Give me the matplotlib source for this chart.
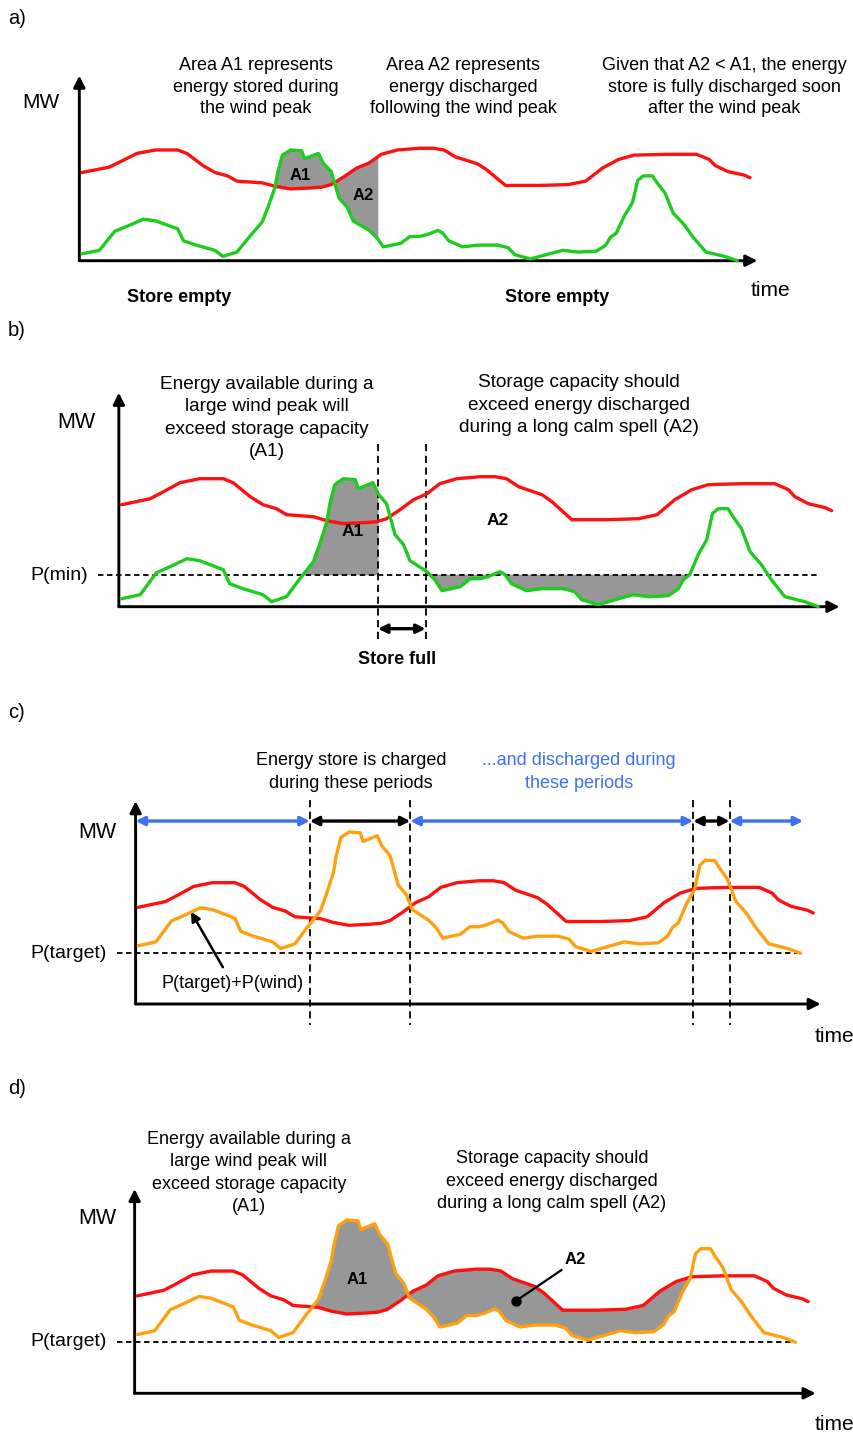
import numpy as np
import matplotlib
matplotlib.use("Agg")
import matplotlib.pyplot as plt

W, H = 854, 1434
plt.rcParams["font.family"] = ["Liberation Sans", "DejaVu Sans"]

# demand curve (red) and wind output (green), time 0..100, arbitrary MW units
demand_t = [0, 4.0, 5.9, 8.2, 11.0, 14.3, 15.7, 18.1, 19.9, 21.8, 23.2, 25.1, 27.0, 28.9,
            31.2, 34.0, 35.9, 37.3, 39.2, 41.1, 43.0, 44.8, 47.2, 50.5, 52.6, 54.2, 55.9,
            59.2, 60.6, 63.4, 68.5, 72.8, 75.4, 77.9, 80.3, 82.6, 87.3, 92.0, 93.9, 94.8,
            96.7, 99.1, 100]
demand_mw = [102, 108, 115, 124, 128, 128, 124, 110, 102, 98, 92, 91, 90, 86,
             83, 84, 85, 88, 97, 107, 113, 123, 128, 130, 130, 128, 120,
             112, 105, 87, 87, 88, 92, 107, 117, 122, 123, 123, 117, 110,
             103, 99, 96]

wind_t = [0, 2.6, 4.9, 6.8, 9.2, 11.0, 14.3, 15.2, 17.1, 19.9, 21.1, 23.2, 25.1, 27.0,
          27.9, 28.9, 29.3, 30.0, 31.2, 32.9, 33.3, 35.4, 36.1, 37.3, 38.0, 38.5, 39.7,
          40.6, 43.0, 44.1, 45.1, 47.7, 49.1, 50.5, 51.6, 53.3, 54.0, 54.9, 57.0, 59.2,
          62.2, 63.8, 64.8, 67.1, 69.5, 72.0, 74.2, 77.0, 78.4, 79.1, 80.0, 81.2, 82.4,
          83.2, 84.0, 85.4, 86.1, 87.3, 88.5, 90.1, 91.5, 93.4, 96.2, 98.1]
wind_mw = [8, 12, 34, 40, 48, 46, 37, 23, 18, 12, 5, 10, 28, 45,
           63, 85, 102, 122, 128, 127, 118, 124, 113, 103, 85, 72, 62,
           46, 35, 27, 16, 20, 28, 28, 30, 35, 32, 23, 16, 18,
           18, 15, 7, 2, 7, 12, 10, 11, 18, 27, 32, 52, 67,
           93, 98, 98, 90, 78, 55, 42, 27, 10, 5, 0]

p_min = 32
p_target = 53.5
a2_end = 44.3                       # panel a: end of discharge area
store_full = (36.1, 42.8)           # panel b
charge_periods = [(25.4, 40.3), (82.2, 87.6)]   # panel c
discharge_periods = [(-0.4, 25.4), (40.3, 82.2), (87.6, 98.5)]

RED = "#ff1010"
GREEN = "#1ecb1e"
ORANGE = "#ffa010"
BLUE = "#3f70f0"
GREY = "#979797"

fig = plt.figure(figsize=(W / 100, H / 100), dpi=100)

tt = np.linspace(wind_t[0], wind_t[-1], 4000)
dem = np.interp(tt, demand_t, demand_mw)
wnd = np.interp(tt, wind_t, wind_mw)


def panel(x0, sx, y0, sy, tlim=(-25, 108), vlim=(-80, 230)):
    left = x0 + tlim[0] * sx
    bottom = y0 - vlim[0] * sy
    ax = fig.add_axes([left / W, 1 - bottom / H,
                       (tlim[1] - tlim[0]) * sx / W, (vlim[1] - vlim[0]) * sy / H])
    ax.set_xlim(tlim)
    ax.set_ylim(vlim)
    ax.axis("off")
    return ax


def ftext(x, y, s, **kw):
    fig.text(x / W, 1 - y / H, s, **kw)


def axes_arrows(ax):
    for tip in [(101.1, 0), (-0.4, 214)]:
        ax.annotate("", xy=tip, xytext=(-0.4, 0),
                    arrowprops=dict(arrowstyle="-|>", color="k", lw=2.1,
                                    mutation_scale=17, shrinkA=0, shrinkB=0))


def curves(ax, offset=0, wcolor=GREEN):
    ax.plot(demand_t, demand_mw, color=RED, lw=2.4, zorder=3,
            solid_capstyle="round", solid_joinstyle="round")
    ax.plot(wind_t, np.array(wind_mw) + offset, color=wcolor, lw=2.4, zorder=4,
            solid_capstyle="round", solid_joinstyle="round")


def hdash(ax, level, t0, t1):
    ax.plot([t0, t1], [level, level], color="k", lw=1.3, ls=(0, (3, 2)), zorder=2)


def vdash(ax, t, v0, v1):
    ax.plot([t, t], [v0, v1], color="k", lw=1.3, ls=(0, (4, 2.5)), zorder=2)


def dbl_arrow(ax, t0, t1, v, color):
    ax.annotate("", xy=(t1, v), xytext=(t0, v),
                arrowprops=dict(arrowstyle="<|-|>", color=color, lw=2.4,
                                mutation_scale=13, shrinkA=0, shrinkB=0))


body = dict(ha="center", va="center", fontsize=13)

# ---------------- a) ----------------
ax = panel(82, 6.68, 260.7, 0.865)
ax.fill_between(tt, dem, wnd, where=(wnd > dem) & (tt > 20) & (tt < 40),
                interpolate=True, color=GREY, lw=0, zorder=1)
ax.fill_between(tt, dem, wnd, where=(dem > wnd) & (tt > 36) & (tt <= a2_end),
                interpolate=True, color=GREY, lw=0, zorder=1)
curves(ax)
axes_arrows(ax)
ftext(8, 18, "a)", ha="left", va="center", fontsize=14.5)
ftext(41, 103, "MW", ha="center", va="center", fontsize=15)
ftext(770, 290, "time", ha="center", va="center", fontsize=15)
ftext(256, 87, "Area A1 represents\nenergy stored during\nthe wind peak", linespacing=1.33, **body)
ftext(463, 87, "Area A2 represents\nenergy discharged\nfollowing the wind peak", linespacing=1.33, **body)
ftext(724, 87, "Given that A2 < A1, the energy\nstore is fully discharged soon\nafter the wind peak",
      linespacing=1.33, **body)
ftext(300, 175, "A1", ha="center", va="center", fontsize=12, fontweight="bold")
ftext(363, 195, "A2", ha="center", va="center", fontsize=12, fontweight="bold")
ftext(179, 298, "Store empty", ha="center", va="center", fontsize=13, fontweight="bold")
ftext(557, 298, "Store empty", ha="center", va="center", fontsize=13, fontweight="bold")

# ---------------- b) ----------------
ax = panel(121.7, 7.1, 606.7, 1.0)
ax.fill_between(tt, p_min, wnd, where=(wnd > p_min) & (tt > 20) & (tt <= store_full[0]),
                interpolate=True, color=GREY, lw=0, zorder=1)
ax.fill_between(tt, p_min, wnd, where=(wnd < p_min) & (tt >= store_full[1]) & (tt <= 80),
                interpolate=True, color=GREY, lw=0, zorder=1)
hdash(ax, p_min, -3.3, 98.4)
for t in store_full:
    vdash(ax, t, 163, -32)
curves(ax)
axes_arrows(ax)
dbl_arrow(ax, store_full[0], store_full[1], -22, "k")
ftext(8, 330, "b)", ha="left", va="center", fontsize=14.5)
ftext(76, 423, "MW", ha="center", va="center", fontsize=15.5)
ftext(88, 575, "P(min)", ha="right", va="center", fontsize=14)
ftext(267, 418, "Energy available during a\nlarge wind peak will\nexceed storage capacity\n(A1)",
      linespacing=1.42, **{**body, "fontsize": 13.7})
ftext(579, 405, "Storage capacity should\nexceed energy discharged\nduring a long calm spell (A2)",
      linespacing=1.42, **{**body, "fontsize": 13.7})
ftext(353, 532, "A1", ha="center", va="center", fontsize=12.5, fontweight="bold")
ftext(498, 520, "A2", ha="center", va="center", fontsize=12.5, fontweight="bold")
ftext(397, 660, "Store full", ha="center", va="center", fontsize=13, fontweight="bold")

# ---------------- c) ----------------
ax = panel(138.3, 6.75, 1004, 0.948)
hdash(ax, p_target, -3.2, 98.0)
for t0, t1 in charge_periods:
    vdash(ax, t0, 215, -22)
    vdash(ax, t1, 215, -22)
curves(ax, offset=p_target, wcolor=ORANGE)
axes_arrows(ax)
for t0, t1 in discharge_periods:
    dbl_arrow(ax, t0, t1, 193, BLUE)
for t0, t1 in charge_periods:
    dbl_arrow(ax, t0, t1, 193, "k")
ax.annotate("P(target)+P(wind)", xy=(7.8, 97.4), xytext=(13.9, 21.8),
            ha="center", va="center", fontsize=13,
            arrowprops=dict(arrowstyle="-|>", color="k", lw=1.8, mutation_scale=14,
                            shrinkA=4, shrinkB=0))
ftext(8, 713, "c)", ha="left", va="center", fontsize=14.5)
ftext(97, 833, "MW", ha="center", va="center", fontsize=15.5)
ftext(107, 953, "P(target)", ha="right", va="center", fontsize=14)
ftext(815, 1037, "time", ha="left", va="center", fontsize=15)
ftext(351, 772, "Energy store is charged\nduring these periods", linespacing=1.45, **body)
ftext(579, 772, "...and discharged during\nthese periods", linespacing=1.45, color=BLUE, **body)

# ---------------- d) ----------------
ax = panel(137.3, 6.71, 1393.3, 0.955)
orange = wnd + p_target
ax.fill_between(tt, dem, orange, where=(orange > dem) & (tt > 20) & (tt < 45),
                interpolate=True, color=GREY, lw=0, zorder=1)
ax.fill_between(tt, dem, orange, where=(dem > orange) & (tt > 38) & (tt < 82.5),
                interpolate=True, color=GREY, lw=0, zorder=1)
hdash(ax, p_target, -3.0, 98.0)
curves(ax, offset=p_target, wcolor=ORANGE)
axes_arrows(ax)
ax.plot([56.4, 63.2], [96.6, 129], color="k", lw=1.6, zorder=5)
ax.plot([56.4], [96.6], "o", color="k", ms=6.5, zorder=5)
ftext(8, 1088, "d)", ha="left", va="center", fontsize=14.5)
ftext(97, 1219, "MW", ha="center", va="center", fontsize=15.5)
ftext(107, 1342, "P(target)", ha="right", va="center", fontsize=14)
ftext(815, 1425, "time", ha="left", va="center", fontsize=15)
ftext(249, 1173, "Energy available during a\nlarge wind peak will\nexceed storage capacity\n(A1)",
      linespacing=1.4, **body)
ftext(552, 1181, "Storage capacity should\nexceed energy discharged\nduring a long calm spell (A2)",
      linespacing=1.4, **body)
ftext(357, 1280, "A1", ha="center", va="center", fontsize=12, fontweight="bold")
ftext(575, 1260, "A2", ha="center", va="center", fontsize=12, fontweight="bold")

fig.savefig("out.png", dpi=100)
